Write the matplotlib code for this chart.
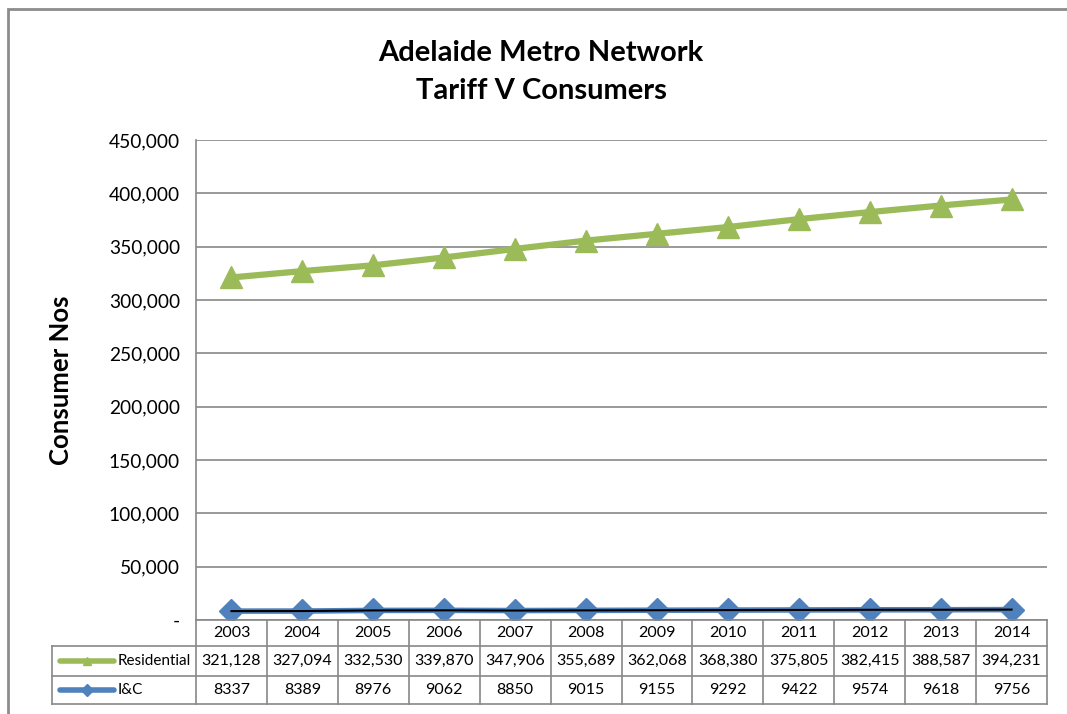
import matplotlib
matplotlib.use("Agg")
import matplotlib.pyplot as plt
from matplotlib.lines import Line2D
from matplotlib.patches import Rectangle

# =========================
# データ
# =========================
years = ["2003", "2004", "2005", "2006", "2007", "2008",
         "2009", "2010", "2011", "2012", "2013", "2014"]
residential = [321128, 327094, 332530, 339870, 347906, 355689,
               362068, 368380, 375805, 382415, 388587, 394231]
ic = [8337, 8389, 8976, 9062, 8850, 9015,
      9155, 9292, 9422, 9574, 9618, 9756]
yticks = [0, 50000, 100000, 150000, 200000, 250000,
          300000, 350000, 400000, 450000]

GREEN = "#9BBB59"
BLUE = "#4F81BD"
GRID = "#888888"
W, H = 1067, 714

plt.rcParams["font.family"] = ["Lato", "DejaVu Sans"]

fig = plt.figure(figsize=(W / 100, H / 100), dpi=100)

def fx(px):
    return px / W

def fy(py):
    return 1 - py / H

# 外枠
fig.patches.append(Rectangle((fx(8), fy(760)), fx(1100), fy(9) - fy(760),
                             transform=fig.transFigure, fill=False,
                             edgecolor="#8c8c8c", linewidth=2))

# =========================
# グラフ本体
# =========================
L, R, T, B = 196, 1047, 140, 620
ax = fig.add_axes([fx(L), fy(B), fx(R - L), fy(T) - fy(B)])
x = list(range(len(years)))

ax.plot(x, residential, color=GREEN, linewidth=4.5, marker="^",
        markersize=16, zorder=3)
ax.plot(x, ic, color=BLUE, linewidth=4, marker="D",
        markersize=12, zorder=3)
ax.plot(x, ic, color="black", linewidth=1.5, zorder=4)

ax.set_xlim(-0.5, len(years) - 0.5)
ax.set_ylim(0, 450000)
ax.set_yticks(yticks)
ax.set_yticklabels(["-" if v == 0 else f"{v:,}" for v in yticks],
                   fontsize=13.8)
ax.set_xticks([])
ax.tick_params(axis="y", length=0, pad=11.5)
ax.grid(axis="y", color=GRID, linewidth=1.2)
ax.set_axisbelow(True)
for s in ["top", "right", "bottom"]:
    ax.spines[s].set_visible(False)
ax.spines["left"].set_color(GRID)
ax.spines["left"].set_linewidth(1.2)
ax.set_ylabel("Consumer Nos", fontsize=18.5, fontweight="bold")
ax.yaxis.set_label_coords((73 - L) / (R - L), 0.5)

fig.text(fx(541), fy(61), "Adelaide Metro Network", ha="center",
         va="baseline", fontsize=21, fontweight="bold")
fig.text(fx(541), fy(99), "Tariff V Consumers", ha="center",
         va="baseline", fontsize=21, fontweight="bold")

# =========================
# データテーブル
# =========================
col_w = (R - L) / len(years)
row_y = [620, 646, 676, 704]
label_left = 52

def hline(x0, x1, y):
    fig.add_artist(Line2D([fx(x0), fx(x1)], [fy(y), fy(y)], color=GRID,
                          linewidth=1.2, transform=fig.transFigure))

def vline(xp, y0, y1):
    fig.add_artist(Line2D([fx(xp), fx(xp)], [fy(y0), fy(y1)], color=GRID,
                          linewidth=1.2, transform=fig.transFigure))

hline(L, R, row_y[0])
for yy in row_y[1:]:
    hline(label_left, R, yy)
vline(label_left, row_y[1], row_y[3])
for i in range(len(years) + 1):
    vline(L + i * col_w, row_y[0], row_y[3])

for i, yr in enumerate(years):
    cx = L + (i + 0.5) * col_w
    fig.text(fx(cx), fy((row_y[0] + row_y[1]) / 2), yr,
             ha="center", va="center", fontsize=11.5)
    fig.text(fx(cx), fy((row_y[1] + row_y[2]) / 2), f"{residential[i]:,}",
             ha="center", va="center", fontsize=11.5)
    fig.text(fx(cx), fy((row_y[2] + row_y[3]) / 2), str(ic[i]),
             ha="center", va="center", fontsize=11.5)

# 凡例キー
for (r0, r1), name, color, mk in [((row_y[1], row_y[2]), "Residential", GREEN, "^"),
                                   ((row_y[2], row_y[3]), "I&C", BLUE, "D")]:
    yc = fy((r0 + r1) / 2)
    fig.add_artist(Line2D([fx(60), fx(114)], [yc, yc], color=color,
                          linewidth=4, solid_capstyle="round",
                          transform=fig.transFigure))
    fig.add_artist(Line2D([fx(86.5)], [yc], color=color, marker=mk,
                          markersize=6, transform=fig.transFigure))
    fig.text(fx(118), yc, name, ha="left", va="center", fontsize=11)

fig.savefig("out.png", dpi=100)
